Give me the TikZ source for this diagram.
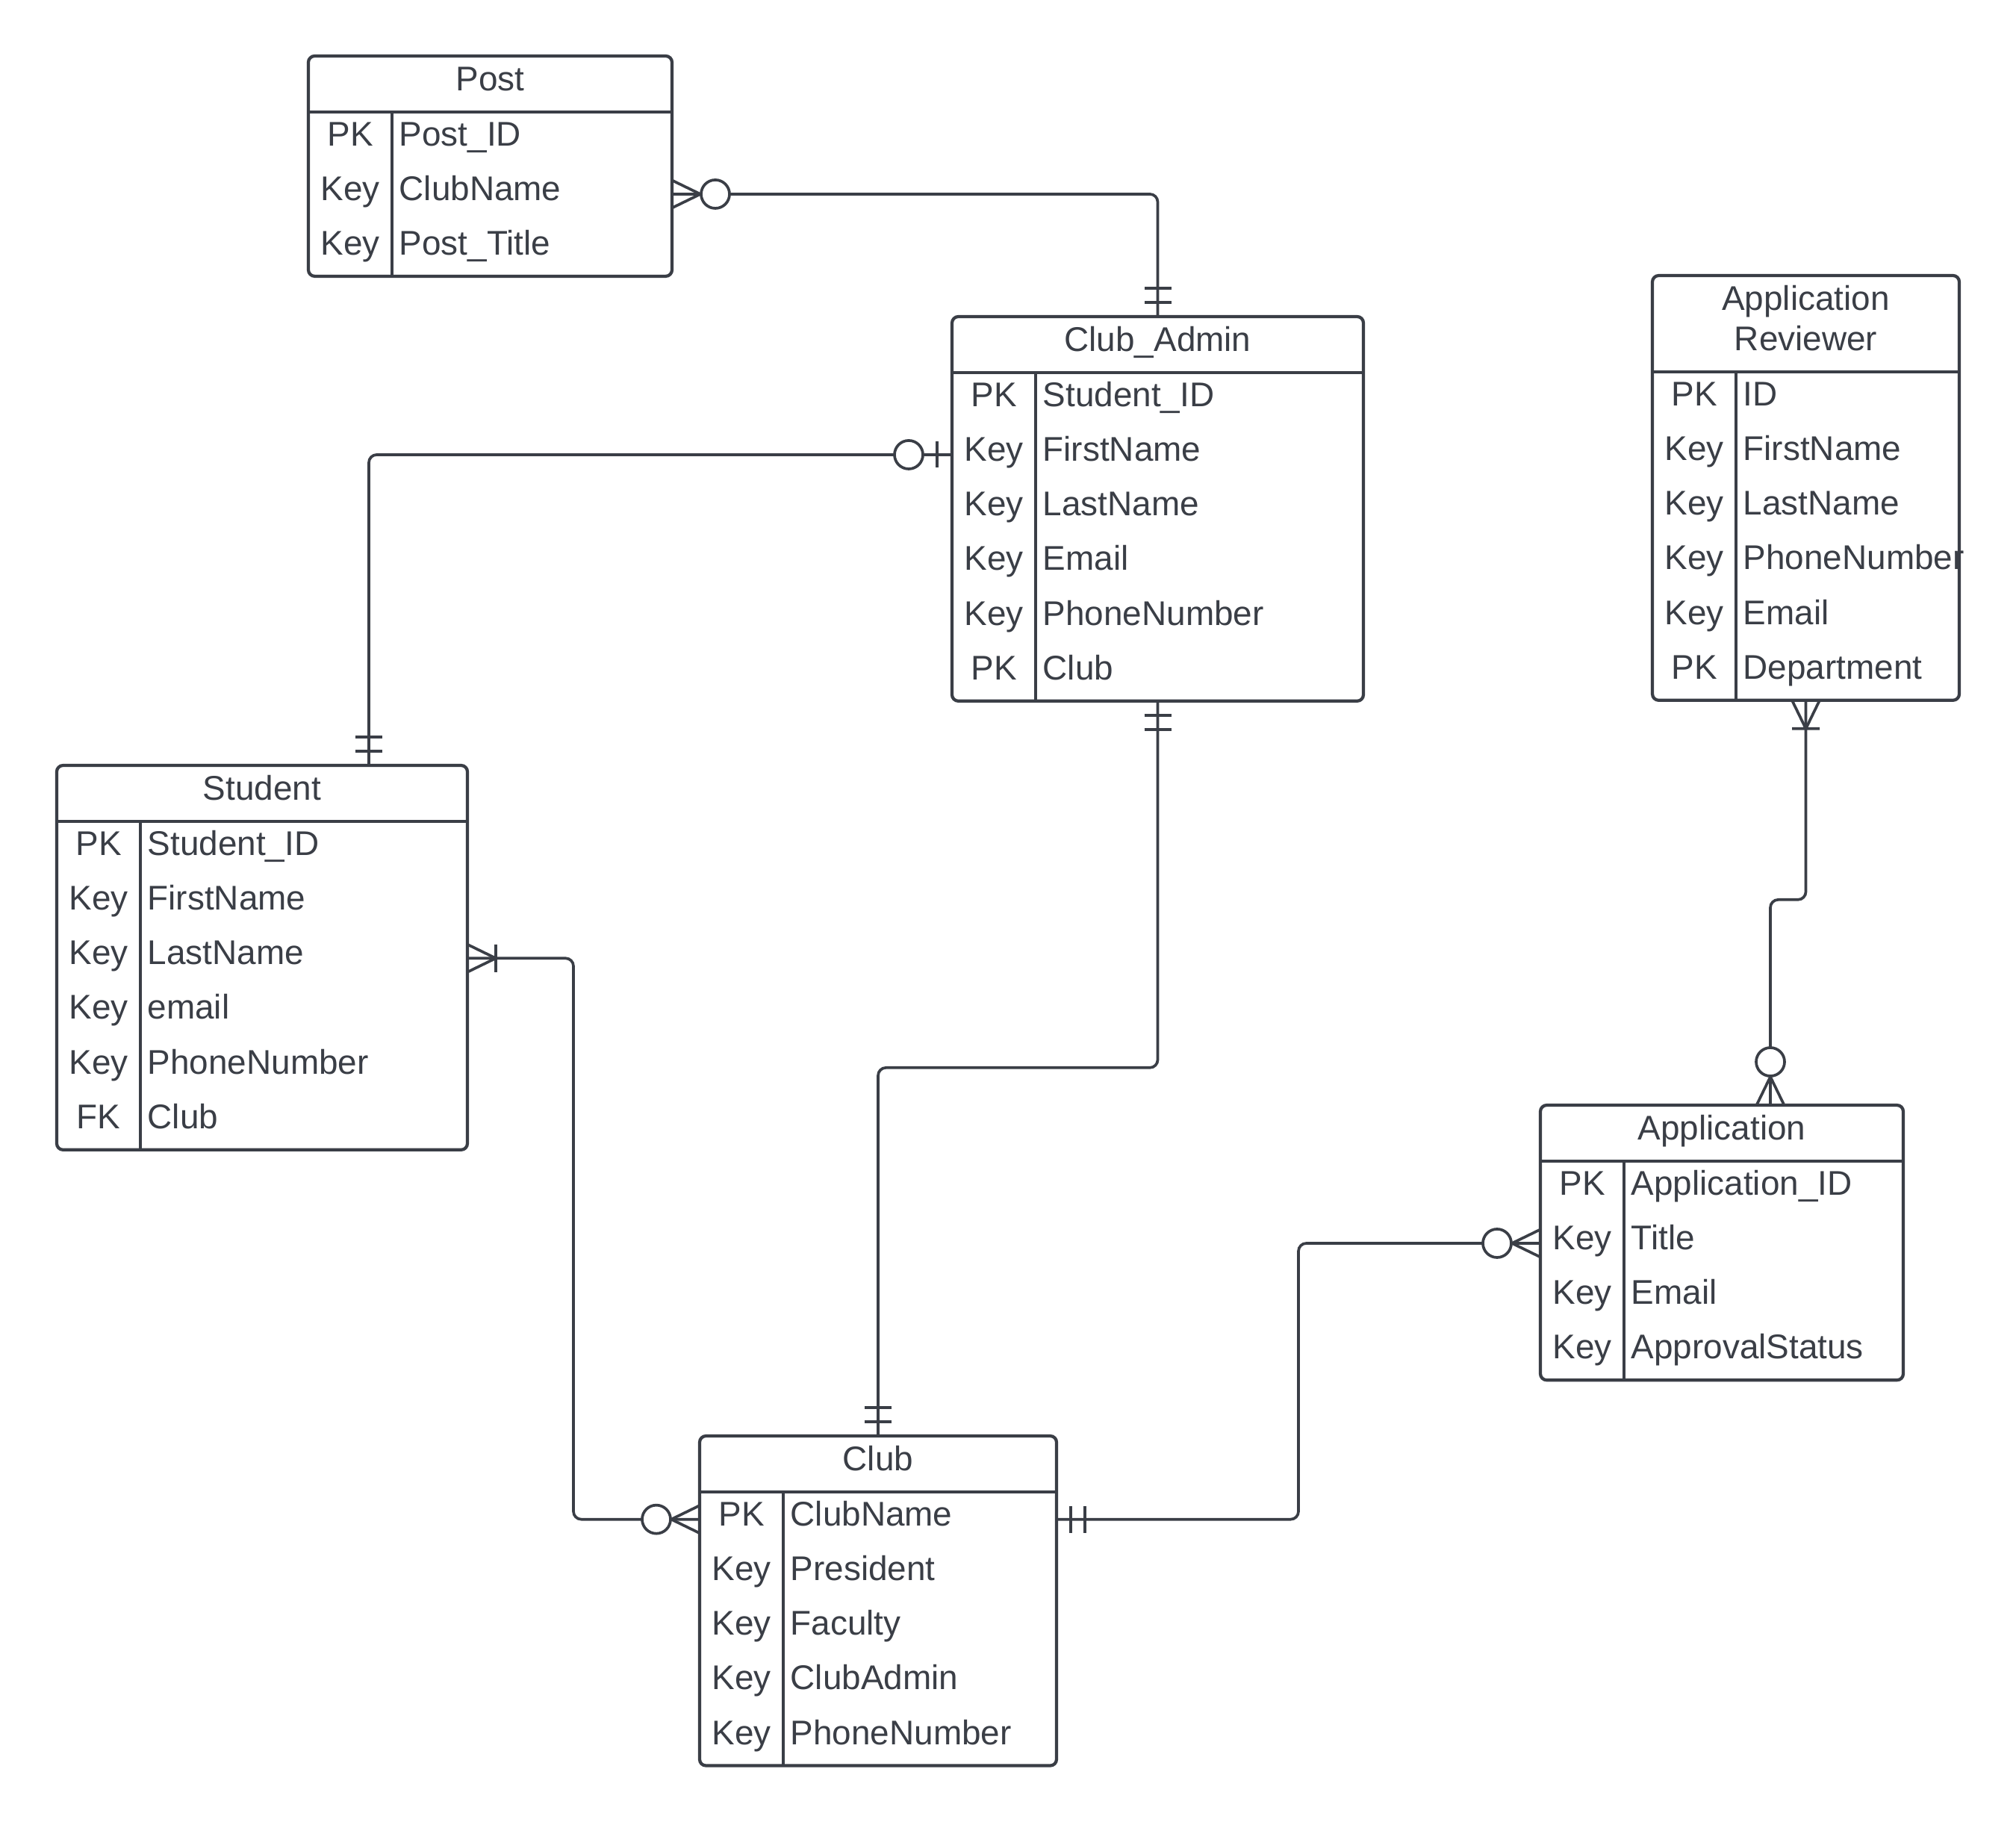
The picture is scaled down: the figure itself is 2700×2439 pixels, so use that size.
\documentclass[tikz,border=0pt]{standalone}
\usepackage{fontspec}
\setmainfont{Liberation Sans}
\usetikzlibrary{fit,calc}
\definecolor{ink}{RGB}{58,62,70}
\tikzset{
  erl/.style={draw=ink,line width=1.05pt,line join=round},
  pics/zmany/.style={code={
    \draw[erl] (0,18.5) -- (38,0) -- (0,-18.5);
    \draw[erl,fill=white] (58,0) circle[radius=0.19cm];}},
  pics/omany/.style={code={
    \draw[erl] (0,18.5) -- (38,0) -- (0,-18.5) (38,18.5) -- (38,-18.5);}},
  pics/oone/.style={code={
    \draw[erl] (19,18) -- (19,-18) (38,18) -- (38,-18);}},
  pics/zone/.style={code={
    \draw[erl] (20,17.5) -- (20,-17.5);
    \draw[erl,fill=white] (58,0) circle[radius=0.19cm];}},
}
% #1 name, #2 left, #3 top, #4 right, #5 header bottom, #6 title, #7 rows, #8 number of rows
\newcommand\erent[8]{%
  \pgfmathsetmacro\erbot{#5+#8*73.3}
  \node[ebox, fit={(#2,#3) (#4,\erbot)}] (#1) {};
  \draw[eline] (#2,#5) -- (#4,#5);
  \draw[eline] (#2+112,#5) -- (#2+112,\erbot);
  \node[etext, anchor=base] (#1-t) at ({(#2+#4)/2},#3+46) {#6};
  \foreach \k/\v [count=\i] in {#7} {
    \pgfmathsetmacro\errt{#5+(\i-1)*73.3}
    \node[fit={(#2,\errt) (#4,\errt+73.3)}, inner sep=0pt, outer sep=0pt] (#1-r\i) {};
    \node[etext, anchor=base] (#1-k\i) at (#2+56,\errt+45) {\k};
    \node[etext, anchor=base west] (#1-n\i) at (#2+121,\errt+45) {\v};
  }
}
\begin{document}
\begin{tikzpicture}[x=0.01cm,y=-0.01cm,
  eline/.style={draw=ink,line width=1.2pt},
  ebox/.style={draw=ink,line width=1.2pt,rounded corners=2.4pt,inner sep=0pt,outer sep=0pt},
  etext/.style={text=ink,inner sep=0pt,font=\fontsize{13.05pt}{15.45pt}\selectfont},
  conn/.style={draw=ink,line width=1.05pt,rounded corners=3pt},
]
\fill[white] (0,0) rectangle (2700,2439);
\useasboundingbox (0,0) rectangle (2700,2439);

% entities
\erent{post}{413}{75}{900}{150}{Post}{PK/Post\_ID,Key/ClubName,Key/Post\_Title}{3}
\erent{cadmin}{1275}{424}{1826}{499}{Club\_Admin}{PK/Student\_ID,Key/FirstName,Key/LastName,Key/Email,Key/PhoneNumber,PK/Club}{6}
\erent{rev}{2213}{369}{2624}{498}{\begin{tabular}[t]{@{}c@{}}Application\\Reviewer\end{tabular}}{PK/ID,Key/FirstName,Key/LastName,Key/PhoneNumber,Key/Email,PK/Department}{6}
\erent{student}{76}{1025}{626}{1100}{Student}{PK/Student\_ID,Key/FirstName,Key/LastName,Key/email,Key/PhoneNumber,FK/Club}{6}
\erent{app}{2063}{1480}{2549}{1555}{Application}{PK/Application\_ID,Key/Title,Key/Email,Key/ApprovalStatus}{4}
\erent{club}{937}{1923}{1415}{1998}{Club}{PK/ClubName,Key/President,Key/Faculty,Key/ClubAdmin,Key/PhoneNumber}{5}

% free connector ends
\coordinate (stutop) at ($(student.north west)+(418,0)$);
\coordinate (apptop) at ($(app.north west)+(308,0)$);

% connectors
\draw[conn] (post-r2.east) -| (cadmin.north);
\draw[conn] (cadmin-r2.west) -| (stutop);
\draw[conn] (cadmin.south) -- ++(0,491) -| (club.north);
\draw[conn] (student-r3.east) -- ++(142,0) |- (club-r1.west);
\draw[conn] (club-r1.east) -- ++(324,0) |- (app-r2.west);
\draw[conn] (rev.south) -- ++(0,267) -| (apptop);

% cardinality marks
\pic at (post-r2.east) {zmany};
\pic[rotate=90] at (cadmin.north) {oone};
\pic[rotate=180] at (cadmin-r2.west) {zone};
\pic[rotate=90] at (stutop) {oone};
\pic[rotate=-90] at (cadmin.south) {oone};
\pic[rotate=90] at (club.north) {oone};
\pic at (student-r3.east) {omany};
\pic[rotate=180] at (club-r1.west) {zmany};
\pic at (club-r1.east) {oone};
\pic[rotate=180] at (app-r2.west) {zmany};
\pic[rotate=-90] at (rev.south) {omany};
\pic[rotate=90] at (apptop) {zmany};
\end{tikzpicture}
\end{document}
